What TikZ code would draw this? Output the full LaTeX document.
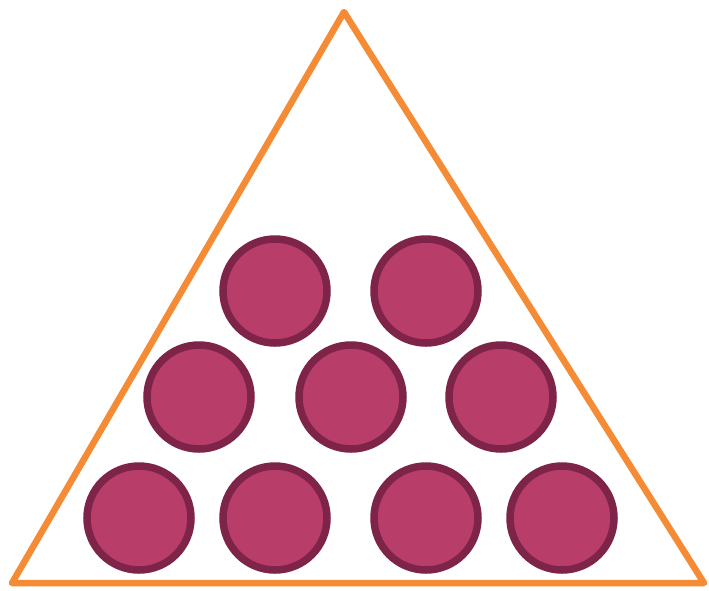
\documentclass[tikz,border=0pt]{standalone}
\definecolor{tri}{HTML}{F68B35}
\definecolor{ballfill}{HTML}{B83D68}
\definecolor{balledge}{HTML}{7E2448}
\begin{document}
\begin{tikzpicture}[x=1pt,y=-1pt,
  ball/.style={circle,draw=balledge,fill=ballfill,line width=7.5pt,minimum size=104pt,inner sep=0pt}]
\useasboundingbox (0,0) rectangle (709,590);
\draw[tri,line width=6.5pt,line join=round] (344,12) -- (704,583) -- (12,583) -- cycle;
\node[ball] (a1) at (275,291) {};
\node[ball] (a2) at (426,291) {};
\node[ball] (b1) at (199,397) {};
\node[ball] (b2) at (351,397) {};
\node[ball] (b3) at (501,397) {};
\node[ball] (c1) at (139,518) {};
\node[ball] (c2) at (275,518) {};
\node[ball] (c3) at (426,518) {};
\node[ball] (c4) at (562,518) {};
\end{tikzpicture}
\end{document}
